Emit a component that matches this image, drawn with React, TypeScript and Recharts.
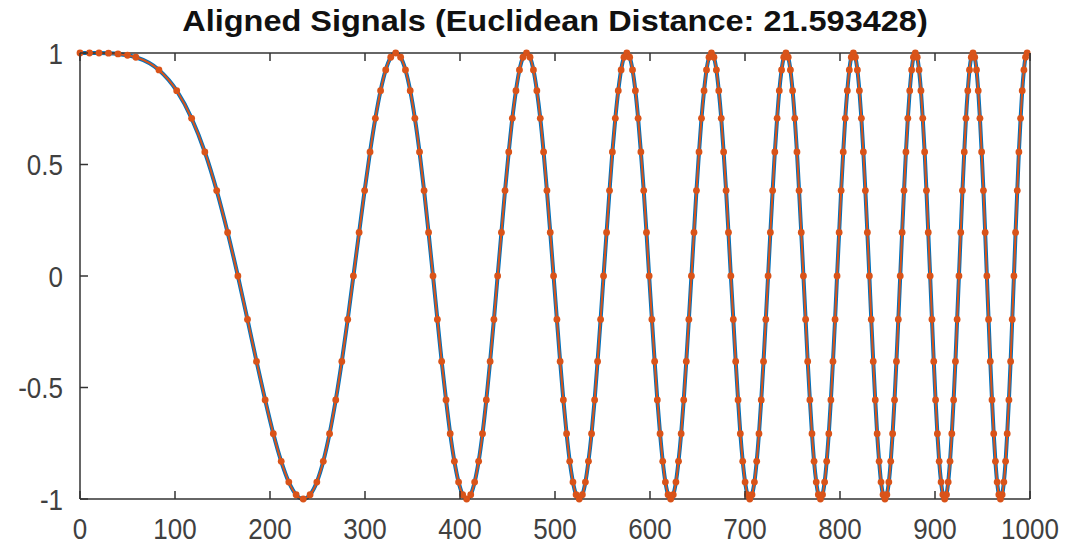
import { LineChart, Line, XAxis, YAxis } from "recharts";

const TITLE = "Aligned Signals (Euclidean Distance: 21.593428)";

const xTicks = [0, 100, 200, 300, 400, 500, 600, 700, 800, 900, 1000];
const yTicks = [-1, -0.5, 0, 0.5, 1];

// warping-path index of each sample (one row per half wave)
const pathIndex = [
  0, 10, 20, 30, 40, 50, 58.8, 83.1, 101.8, 117.5, 131.4, 143.9, 155.4, 166.2, 176.3, 185.8, 194.9, 203.5, 211.8, 219.8, 227.5,
  235, 242.2, 249.3, 256.1, 262.7, 269.2, 275.6, 281.8, 287.8, 293.8, 299.6, 305.3, 310.9, 316.4, 321.8, 327.1,
  332.3, 337.5, 342.6, 347.6, 352.5, 357.4, 362.2, 366.9, 371.6, 376.2, 380.7, 385.3, 389.7, 394.1, 398.5, 402.8,
  407, 411.3, 415.4, 419.6, 423.7, 427.7, 431.7, 435.7, 439.6, 443.6, 447.4, 451.3, 455.1, 458.9, 462.6, 466.3,
  470, 473.7, 477.3, 480.9, 484.5, 488, 491.5, 495, 498.5, 502, 505.4, 508.8, 512.2, 515.5, 518.9, 522.2,
  525.5, 528.8, 532, 535.2, 538.5, 541.7, 544.8, 548, 551.1, 554.3, 557.4, 560.4, 563.5, 566.6, 569.6, 572.6,
  575.6, 578.6, 581.6, 584.6, 587.5, 590.4, 593.4, 596.3, 599.1, 602, 604.9, 607.7, 610.6, 613.4, 616.2, 619,
  621.8, 624.5, 627.3, 630, 632.8, 635.5, 638.2, 640.9, 643.6, 646.3, 648.9, 651.6, 654.2, 656.9, 659.5, 662.1,
  664.7, 667.3, 669.9, 672.4, 675, 677.5, 680.1, 682.6, 685.1, 687.7, 690.2, 692.7, 695.1, 697.6, 700.1, 702.6,
  705, 707.4, 709.9, 712.3, 714.7, 717.1, 719.5, 721.9, 724.3, 726.7, 729.1, 731.4, 733.8, 736.1, 738.5, 740.8,
  743.1, 745.5, 747.8, 750.1, 752.4, 754.7, 756.9, 759.2, 761.5, 763.8, 766, 768.3, 770.5, 772.7, 775, 777.2,
  779.4, 781.6, 783.8, 786, 788.2, 790.4, 792.6, 794.8, 796.9, 799.1, 801.2, 803.4, 805.5, 807.7, 809.8, 811.9,
  814.1, 816.2, 818.3, 820.4, 822.5, 824.6, 826.7, 828.8, 830.9, 832.9, 835, 837.1, 839.1, 841.2, 843.2, 845.3,
  847.3, 849.3, 851.4, 853.4, 855.4, 857.4, 859.4, 861.4, 863.4, 865.4, 867.4, 869.4, 871.4, 873.4, 875.4, 877.3,
  879.3, 881.3, 883.2, 885.2, 887.1, 889.1, 891, 892.9, 894.9, 896.8, 898.7, 900.6, 902.5, 904.4, 906.4, 908.3,
  910.2, 912.1, 913.9, 915.8, 917.7, 919.6, 921.5, 923.3, 925.2, 927.1, 928.9, 930.8, 932.6, 934.5, 936.3, 938.2,
  940, 941.8, 943.7, 945.5, 947.3, 949.1, 951, 952.8, 954.6, 956.4, 958.2, 960, 961.8, 963.6, 965.4, 967.2,
  968.9, 970.7, 972.5, 974.3, 976, 977.8, 979.6, 981.3, 983.1, 984.8, 986.6, 988.3, 990.1, 991.8, 993.6, 995.3,
  997,
];

const blueY = [
  1, 1, 1, 0.999, 0.996, 0.99, 0.981, 0.924, 0.831, 0.707, 0.556, 0.383, 0.195, 0, -0.195, -0.383, -0.556, -0.707, -0.831, -0.924, -0.981,
  -1, -0.981, -0.924, -0.831, -0.707, -0.556, -0.383, -0.195, 0, 0.195, 0.383, 0.556, 0.707, 0.831, 0.924, 0.981,
  1, 0.981, 0.924, 0.831, 0.707, 0.556, 0.383, 0.195, 0, -0.195, -0.383, -0.556, -0.707, -0.831, -0.924, -0.981,
  -1, -0.981, -0.924, -0.831, -0.707, -0.556, -0.383, -0.195, 0, 0.195, 0.383, 0.556, 0.707, 0.831, 0.924, 0.981,
  1, 0.981, 0.924, 0.831, 0.707, 0.556, 0.383, 0.195, 0, -0.195, -0.383, -0.556, -0.707, -0.831, -0.924, -0.981,
  -1, -0.981, -0.924, -0.831, -0.707, -0.556, -0.383, -0.195, 0, 0.195, 0.383, 0.556, 0.707, 0.831, 0.924, 0.981,
  1, 0.981, 0.924, 0.831, 0.707, 0.556, 0.383, 0.195, 0, -0.195, -0.383, -0.556, -0.707, -0.831, -0.924, -0.981,
  -1, -0.981, -0.924, -0.831, -0.707, -0.556, -0.383, -0.195, 0, 0.195, 0.383, 0.556, 0.707, 0.831, 0.924, 0.981,
  1, 0.981, 0.924, 0.831, 0.707, 0.556, 0.383, 0.195, 0, -0.195, -0.383, -0.556, -0.707, -0.831, -0.924, -0.981,
  -1, -0.981, -0.924, -0.831, -0.707, -0.556, -0.383, -0.195, 0, 0.195, 0.383, 0.556, 0.707, 0.831, 0.924, 0.981,
  1, 0.981, 0.924, 0.831, 0.707, 0.556, 0.383, 0.195, 0, -0.195, -0.383, -0.556, -0.707, -0.831, -0.924, -0.981,
  -1, -0.981, -0.924, -0.831, -0.707, -0.556, -0.383, -0.195, 0, 0.195, 0.383, 0.556, 0.707, 0.831, 0.924, 0.981,
  1, 0.981, 0.924, 0.831, 0.707, 0.556, 0.383, 0.195, 0, -0.195, -0.383, -0.556, -0.707, -0.831, -0.924, -0.981,
  -1, -0.981, -0.924, -0.831, -0.707, -0.556, -0.383, -0.195, 0, 0.195, 0.383, 0.556, 0.707, 0.831, 0.924, 0.981,
  1, 0.981, 0.924, 0.831, 0.707, 0.556, 0.383, 0.195, 0, -0.195, -0.383, -0.556, -0.707, -0.831, -0.924, -0.981,
  -1, -0.981, -0.924, -0.831, -0.707, -0.556, -0.383, -0.195, 0, 0.195, 0.383, 0.556, 0.707, 0.831, 0.924, 0.981,
  1, 0.981, 0.924, 0.831, 0.707, 0.556, 0.383, 0.195, 0, -0.195, -0.383, -0.556, -0.707, -0.831, -0.924, -0.981,
  -1, -0.981, -0.924, -0.831, -0.707, -0.556, -0.383, -0.195, 0, 0.195, 0.383, 0.556, 0.707, 0.831, 0.924, 0.981,
  1,
];

// after alignment the second signal sits on top of the first
const orangeY = blueY;

const rows = pathIndex.map((x, i) => ({ x, blue: blueY[i], orange: orangeY[i] }));

const AXIS = "#333333";
const LABEL = "#404040";
const FONT = "'Liberation Sans', Arial, Helvetica, sans-serif";
const TICK_LEN = 8;
const STRETCH = "scale(1,1.12)";

const BottomTick = ({ x, y, payload }: any) => (
  <g>
    <line x1={x} x2={x} y1={y} y2={y - TICK_LEN} stroke={AXIS} strokeWidth={1.5} />
    <text
      transform={`translate(${x},${y + 40}) ${STRETCH}`}
      textAnchor="middle"
      fontSize={26}
      fontFamily={FONT}
      fill={LABEL}
    >
      {payload.value}
    </text>
  </g>
);

const LeftTick = ({ x, y, payload }: any) => (
  <g>
    <line x1={x} x2={x + TICK_LEN} y1={y} y2={y} stroke={AXIS} strokeWidth={1.5} />
    <text
      transform={`translate(${x - 17},${y + 10.5}) ${STRETCH}`}
      textAnchor="end"
      fontSize={26}
      fontFamily={FONT}
      fill={LABEL}
    >
      {payload.value}
    </text>
  </g>
);

const TopTick = ({ x, y }: any) => (
  <line x1={x} x2={x} y1={y} y2={y + TICK_LEN} stroke={AXIS} strokeWidth={1.5} />
);

const RightTick = ({ x, y }: any) => (
  <line x1={x} x2={x - TICK_LEN} y1={y} y2={y} stroke={AXIS} strokeWidth={1.5} />
);

export default function App() {
  return (
    <div style={{ position: "absolute", left: 0, top: 0, width: 1081, height: 545, background: "#fff" }}>
      <div
        style={{
          position: "absolute",
          left: 80,
          top: 7,
          width: 950,
          textAlign: "center",
          fontFamily: FONT,
          fontWeight: "bold",
          fontSize: 29,
          lineHeight: "29px",
          color: "#111",
          transform: "scaleX(1.12)",
          whiteSpace: "nowrap",
        }}
      >
        {TITLE}
      </div>
      <LineChart width={1081} height={545} data={rows} margin={{ top: 52, right: 50, bottom: 0, left: 0 }}>
        <XAxis
          dataKey="x"
          type="number"
          domain={[0, 1000]}
          ticks={xTicks}
          height={46}
          tickSize={0}
          tickMargin={0}
          tick={<BottomTick />}
          axisLine={{ stroke: AXIS, strokeWidth: 1.5 }}
          interval={0}
        />
        <XAxis
          xAxisId="top"
          orientation="top"
          dataKey="x"
          type="number"
          domain={[0, 1000]}
          ticks={xTicks}
          height={1}
          tickSize={0}
          tickMargin={0}
          tick={<TopTick />}
          axisLine={{ stroke: AXIS, strokeWidth: 1.5 }}
          interval={0}
        />
        <YAxis
          type="number"
          domain={[-1, 1]}
          ticks={yTicks}
          width={80}
          tickSize={0}
          tickMargin={0}
          tick={<LeftTick />}
          axisLine={{ stroke: AXIS, strokeWidth: 1.5 }}
          interval={0}
        />
        <YAxis
          yAxisId="right"
          orientation="right"
          type="number"
          domain={[-1, 1]}
          ticks={yTicks}
          width={1}
          tickSize={0}
          tickMargin={0}
          tick={<RightTick />}
          axisLine={{ stroke: AXIS, strokeWidth: 1.5 }}
          interval={0}
        />
        <Line
          dataKey="blue"
          type="monotone"
          stroke="#0072BD"
          strokeWidth={4}
          dot={{ r: 2.4, fill: "#0072BD", stroke: "none" }}
          isAnimationActive={false}
        />
        <Line
          dataKey="orange"
          type="monotone"
          stroke="#D95319"
          strokeWidth={2}
          dot={{ r: 3.4, fill: "#D95319", stroke: "none" }}
          isAnimationActive={false}
        />
      </LineChart>
    </div>
  );
}
